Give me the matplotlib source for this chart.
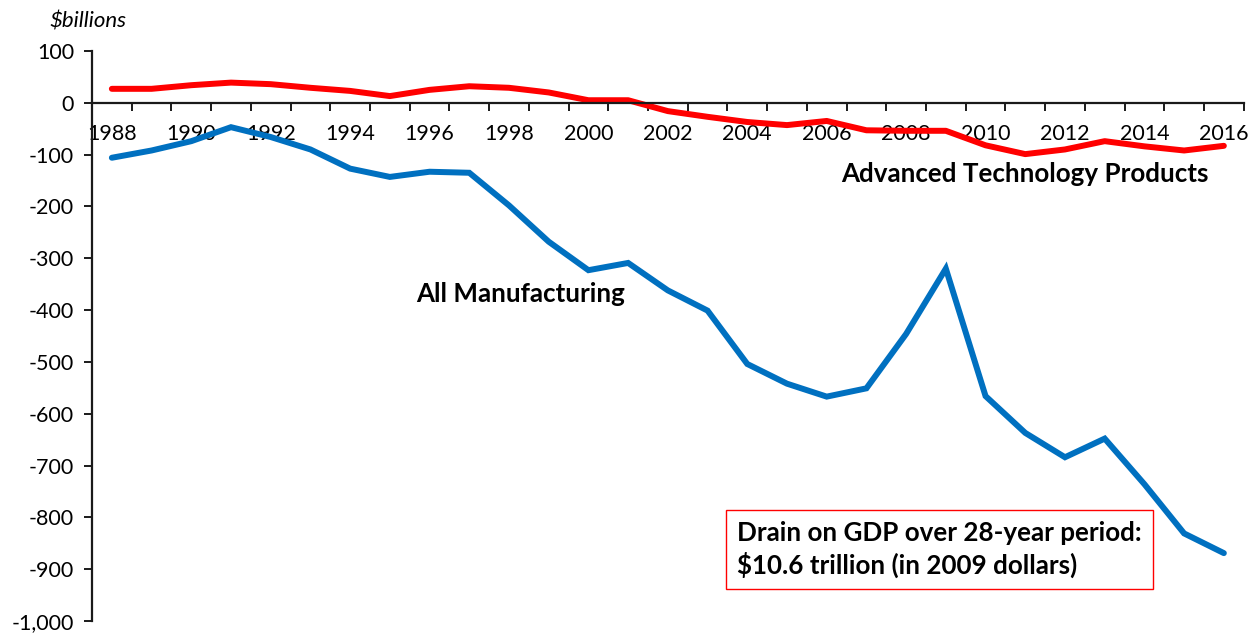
import matplotlib
matplotlib.use("Agg")
import matplotlib.pyplot as plt
from matplotlib.ticker import FuncFormatter

years = list(range(1988, 2017))
all_manufacturing = [-106, -92, -74, -47, -66, -90, -127, -143, -133, -135,
                     -198, -268, -323, -309, -362, -401, -504, -542, -567, -551,
                     -446, -320, -566, -637, -684, -648, -736, -831, -869]
advanced_tech = [27, 27, 34, 39, 36, 29, 23, 13, 25, 32,
                 29, 20, 5, 5, -16, -27, -37, -43, -35, -53,
                 -54, -54, -82, -99, -90, -74, -84, -92, -83]
y_ticks = list(range(-1000, 101, 100))

plt.rcParams['font.family'] = ['Lato', 'DejaVu Sans']

fig = plt.figure(figsize=(12.57, 6.33), dpi=100)
ax = fig.add_axes([92/1257, 1-621/633, (1243.7-92)/1257, (621-51)/633])

x = list(range(len(years)))
ax.plot(x, all_manufacturing, color='#0070C0', lw=4.3, solid_joinstyle='miter', solid_capstyle='round')
ax.plot(x, advanced_tech, color='#FF0000', lw=4.3, solid_joinstyle='round', solid_capstyle='round')

ax.set_xlim(-0.5, len(years) - 0.5)
ax.set_ylim(-1000, 100)

for s in ['top', 'right']:
    ax.spines[s].set_visible(False)
ax.spines['bottom'].set_position(('data', 0))
ax.spines['bottom'].set_linewidth(1.6)
ax.spines['left'].set_linewidth(1.6)
ax.spines['bottom'].set_color('#1a1a1a')
ax.spines['left'].set_color('#1a1a1a')

ax.set_yticks(y_ticks)
ax.yaxis.set_major_formatter(FuncFormatter(lambda v, p: f"{int(v):,}"))
ax.tick_params(axis='y', direction='out', length=6, width=1.4, labelsize=15.5, pad=7, colors='#1a1a1a', labelcolor='black')

ax.set_xticks(x[::2])
ax.set_xticklabels([str(y) for y in years[::2]])
ax.set_xticks([i - 0.5 for i in range(len(years) + 1)], minor=True)
ax.tick_params(axis='x', which='major', length=0, labelsize=15.5, pad=15, labelcolor='black')
ax.tick_params(axis='x', which='minor', direction='out', length=6, width=1.4, colors='#1a1a1a')

fig.text(50/1257, 1-22/633, '$billions', fontsize=16, style='italic', ha='left', va='center')

ax.text(23.0, -137, 'Advanced Technology Products', fontsize=18.7, fontweight='bold', ha='center', va='center')
ax.text(10.28, -368, 'All Manufacturing', fontsize=18.7, fontweight='bold', ha='center', va='center')

ax.text(15.75, -862, 'Drain on GDP over 28-year period:\n$10.6 trillion (in 2009 dollars)',
        fontsize=18.7, fontweight='bold', ha='left', va='center', linespacing=1.35,
        bbox=dict(boxstyle='square,pad=0.42', facecolor='white', edgecolor='#FF0000', linewidth=1))

fig.savefig('out.png', dpi=100)
